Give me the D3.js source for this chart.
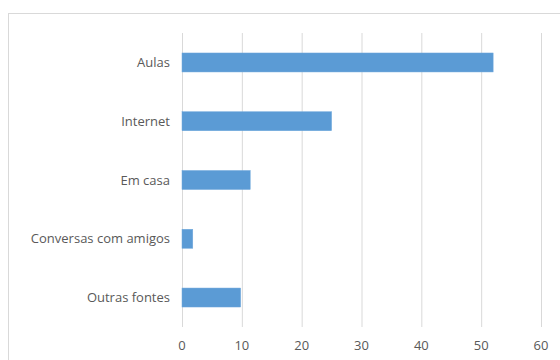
<!DOCTYPE html>
<html><head><meta charset="utf-8">
<script src="https://cdn.jsdelivr.net/npm/d3@7"></script>
<style>body{margin:0;background:#fff}svg{display:block}</style>
</head><body>
<script>
const categories = ["Aulas","Internet","Em casa","Conversas com amigos","Outras fontes"];
const values = [52, 25, 11.4, 1.8, 9.8];
const ticks = [0,10,20,30,40,50,60];

const svg = d3.select("body").append("svg").attr("width",560).attr("height",360);
svg.append("rect").attr("x",8.5).attr("y",13.5).attr("width",600).attr("height",400)
  .attr("fill","#fff").attr("stroke","#d9d9d9");

const x = d3.scaleLinear().domain([0,60]).range([182,541]);
const y = d3.scaleBand().domain(categories).range([33,327]).paddingInner(0.677).paddingOuter(0.34);

svg.append("g").selectAll("line").data(ticks).join("line")
  .attr("x1",d=>x(d)+0.5).attr("x2",d=>x(d)+0.5).attr("y1",33).attr("y2",327)
  .attr("stroke","#d9d9d9").attr("stroke-width",1);

svg.append("g").selectAll("rect").data(values).join("rect")
  .attr("x",x(0)).attr("y",(d,i)=>y(categories[i]))
  .attr("width",d=>x(d)-x(0)).attr("height",y.bandwidth())
  .attr("fill","#5b9bd5").attr("stroke","#6fa8dc").attr("stroke-width",0.5);

const font = "'Open Sans', sans-serif";
svg.append("g").selectAll("text").data(categories).join("text")
  .attr("x",170).attr("y",d=>y(d)+y.bandwidth()/2).attr("dy","0.35em")
  .attr("text-anchor","end").attr("font-family",font).attr("font-size",13)
  .attr("fill","#595959").text(d=>d);

svg.append("g").selectAll("text").data(ticks).join("text")
  .attr("x",d=>x(d)).attr("y",345).attr("dy","0.35em")
  .attr("text-anchor","middle").attr("font-family",font).attr("font-size",13)
  .attr("fill","#595959").text(d=>d);
</script>
</body></html>
